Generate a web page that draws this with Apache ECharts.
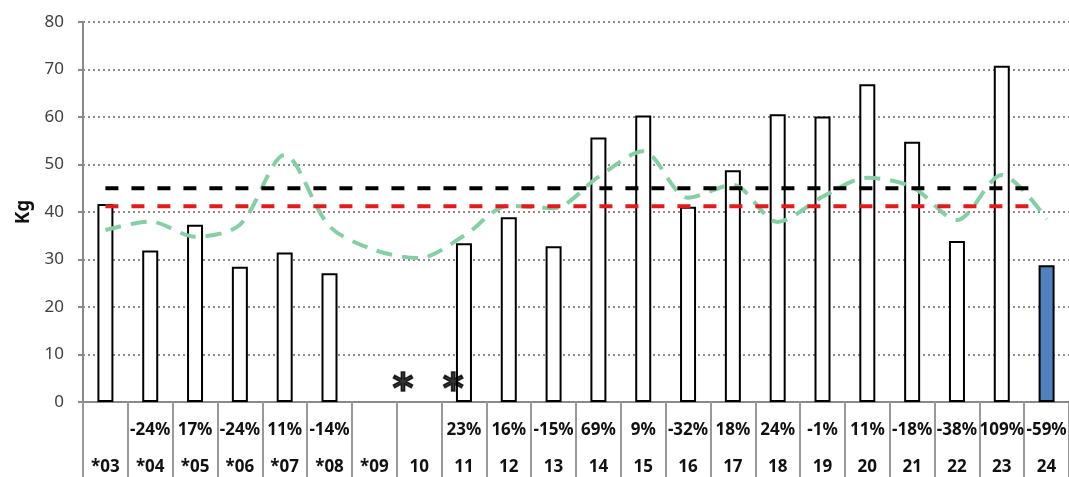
<!DOCTYPE html>
<html>
<head>
<meta charset="utf-8">
<script src="https://cdn.jsdelivr.net/npm/echarts@6/dist/echarts.min.js"></script>
<style>
  html, body { margin: 0; padding: 0; background: #fff; }
  #chart { width: 1069px; height: 477px; }
</style>
</head>
<body>
<div id="chart"></div>
<script>
  // categories and table rows
  var categories = ['*03', '*04', '*05', '*06', '*07', '*08', '*09', '10', '11', '12', '13',
    '14', '15', '16', '17', '18', '19', '20', '21', '22', '23', '24']
  var changes = ['', '-24%', '17%', '-24%', '11%', '-14%', '', '', '23%', '16%', '-15%',
    '69%', '9%', '-32%', '18%', '24%', '-1%', '11%', '-18%', '-38%', '109%', '-59%']

  // Kg per period (no value for *09 and 10)
  var weights = [41.7, 31.9, 37.3, 28.5, 31.5, 27.1, null, null, 33.4, 38.9, 32.8,
    55.7, 60.3, 41.1, 48.8, 60.6, 60.1, 66.9, 54.8, 33.9, 70.8, 28.8]
  // trend (green dashed)
  var trend = [36.2, 38.0, 34.8, 37.3, 52.0, 37.0, 32.0, 30.3, 35.0, 41.3, 40.8,
    47.4, 52.8, 43.0, 45.7, 37.9, 43.2, 47.2, 45.3, 38.3, 47.8, 38.5]

  // reference levels and their span in category units
  var levelBlack = 45
  var levelRed = 41.2
  var levelSpan = [0.5, 21.2]
  // missing-data markers, in category units
  var markerPos = [7.14, 8.26]
  var markerValue = 4

  var yTicks = [0, 10, 20, 30, 40, 50, 60, 70, 80]

  var chart = echarts.init(document.getElementById('chart'))

  var barData = weights.map(function (v, i) {
    if (i === weights.length - 1) {
      return { value: v, itemStyle: { color: '#4f81bd' } }
    }
    return v
  })

  chart.setOption({
    animation: false,
    textStyle: { fontFamily: 'Noto Sans' },
    grid: {
      top: 22,
      left: 83,
      right: 0,
      bottom: 75,
      outerBoundsMode: 'none',
      containLabel: false
    },
    xAxis: [{
      type: 'category',
      data: categories,
      axisLine: { lineStyle: { color: '#8a8a8a', width: 2 } },
      axisTick: {
        show: true,
        interval: 0,
        length: 75,
        lineStyle: { color: '#9a9a9a', width: 2 }
      },
      axisLabel: {
        interval: 0,
        margin: 10,
        lineHeight: 37,
        formatter: function (name, i) {
          var p = changes[i] || ' '
          return '{p|' + p + '}\n{c|' + name + '}'
        },
        rich: {
          p: { fontSize: 17, fontWeight: 'bold', color: '#111', lineHeight: 37 },
          c: { fontSize: 17, fontWeight: 'bold', color: '#111', lineHeight: 37 }
        }
      }
    }, {
      type: 'value',
      min: 0,
      max: categories.length,
      show: false
    }],
    yAxis: {
      type: 'value',
      min: yTicks[0],
      max: yTicks[yTicks.length - 1],
      interval: 10,
      name: 'Kg',
      nameLocation: 'middle',
      nameGap: 50,
      nameRotate: 90,
      nameTextStyle: { fontSize: 19, fontWeight: 'bold', color: '#111' },
      axisLine: { show: true, lineStyle: { color: '#8a8a8a', width: 2 } },
      axisTick: { show: true, length: 5, lineStyle: { color: '#8a8a8a', width: 2 } },
      axisLabel: { fontSize: 17, color: '#404040', margin: 19 },
      splitLine: { lineStyle: { color: '#8c8c8c', width: 2, type: [2, 3] } }
    },
    series: [
      {
        name: 'Kg',
        type: 'bar',
        data: barData,
        barWidth: 16,
        itemStyle: { color: '#fff', borderColor: '#000', borderWidth: 2 }
      },
      {
        name: 'trend',
        type: 'line',
        data: trend,
        smooth: 0.3,
        symbol: 'none',
        lineStyle: { color: '#84cfa3', width: 4, type: [16, 10] },
        z: 3
      },
      {
        name: 'level1',
        type: 'line',
        xAxisIndex: 1,
        data: levelSpan.map(function (x) { return [x, levelBlack] }),
        symbol: 'none',
        lineStyle: { color: '#000', width: 4, type: [13, 13] },
        z: 4
      },
      {
        name: 'level2',
        type: 'line',
        xAxisIndex: 1,
        data: levelSpan.map(function (x) { return [x, levelRed] }),
        symbol: 'none',
        lineStyle: { color: '#e31b1b', width: 4, type: [13, 13] },
        z: 4
      },
      {
        name: 'missing',
        type: 'scatter',
        xAxisIndex: 1,
        data: markerPos.map(function (x) { return [x, markerValue] }),
        symbolSize: 1,
        itemStyle: { color: 'rgba(0,0,0,0)' },
        z: 5,
        label: {
          show: true,
          position: 'inside',
          formatter: '*',
          fontSize: 40,
          fontWeight: 'bold',
          fontFamily: 'DejaVu Sans',
          color: '#000',
          textBorderColor: '#000',
          textBorderWidth: 1.5,
          offset: [0, 9]
        }
      }
    ]
  })
</script>
</body>
</html>
